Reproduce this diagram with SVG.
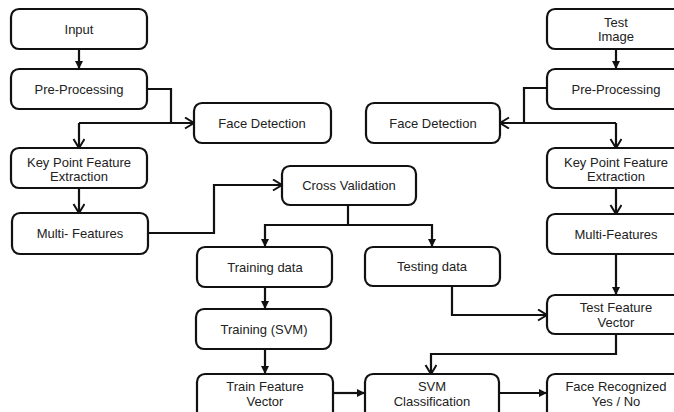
<svg xmlns="http://www.w3.org/2000/svg" width="674" height="412" viewBox="0 0 674 412">
<style>
.box{fill:#fff;stroke:#111;stroke-width:2.2}
text{font-family:"Liberation Sans",Arial,sans-serif;font-size:13px;fill:#222;text-anchor:middle}
.c{fill:none;stroke:#111;stroke-width:2.2}
.f{marker-end:url(#fa)}
.o{marker-end:url(#oa)}
</style>
<defs>
<marker id="fa" markerUnits="userSpaceOnUse" markerWidth="10" markerHeight="10" refX="8" refY="4" orient="auto"><path d="M0,0 L8,4 L0,8 z" fill="#111"/></marker>
<marker id="oa" markerUnits="userSpaceOnUse" markerWidth="12" markerHeight="14" refX="10" refY="6" orient="auto"><path d="M1,0.5 L10,6 L1,11.5" fill="none" stroke="#111" stroke-width="2"/></marker>
</defs>
<rect width="674" height="412" fill="#fff"/>
<g id="connectors">
<path class="c f" d="M79 49 V69"/>
<path class="c" d="M146 89 H171 V123"/>
<path class="c o" d="M79 123 H194"/>
<path class="c o" d="M79 123 V148"/>
<path class="c o" d="M79 188 V213"/>
<path class="c o" d="M148 233 H214 V185 H282"/>
<path class="c" d="M348 205 V225"/>
<path class="c f" d="M348 225 H265 V247"/>
<path class="c f" d="M348 225 H432 V247"/>
<path class="c f" d="M265 287 V309"/>
<path class="c f" d="M265 349 V374"/>
<path class="c o" d="M452 286 V315 H547"/>
<path class="c o" d="M616 334 V354 H431 V374"/>
<path class="c f" d="M333 393 H365"/>
<path class="c f" d="M499 393 H547"/>
<path class="c f" d="M616 49 V69"/>
<path class="c" d="M547 88 H524 V123"/>
<path class="c o" d="M616 123 H500"/>
<path class="c o" d="M616 123 V148"/>
<path class="c o" d="M616 188 V214"/>
<path class="c f" d="M616 254 V295"/>
</g>
<g id="input"><rect class="box" x="11" y="9" width="136" height="40" rx="8"/><text x="79" y="34">Input</text></g>
<g id="preprocessing-left"><rect class="box" x="11" y="69" width="136" height="40" rx="8"/><text x="79" y="94">Pre-Processing</text></g>
<g id="face-detection-left"><rect class="box" x="194" y="103" width="137" height="40" rx="8"/><text x="262" y="128">Face Detection</text></g>
<g id="keypoint-left"><rect class="box" x="11" y="148" width="136" height="40" rx="8"/><text x="79" y="167">Key Point Feature</text><text x="79" y="181">Extraction</text></g>
<g id="multi-left"><rect class="box" x="12" y="213" width="136" height="41" rx="8"/><text x="80" y="238">Multi- Features</text></g>
<g id="cross-validation"><rect class="box" x="282" y="166" width="134" height="39" rx="8"/><text x="349" y="190">Cross Validation</text></g>
<g id="training-data"><rect class="box" x="197" y="247" width="135" height="40" rx="8"/><text x="265" y="272">Training data</text></g>
<g id="training-svm"><rect class="box" x="196" y="309" width="135" height="40" rx="8"/><text x="264" y="334">Training (SVM)</text></g>
<g id="train-feature-vector"><rect class="box" x="197" y="374" width="136" height="46" rx="8"/><text x="265" y="391">Train Feature</text><text x="265" y="406">Vector</text></g>
<g id="testing-data"><rect class="box" x="365" y="247" width="135" height="39" rx="8"/><text x="432" y="271">Testing data</text></g>
<g id="svm-classification"><rect class="box" x="365" y="374" width="134" height="46" rx="8"/><text x="432" y="391">SVM</text><text x="432" y="406">Classification</text></g>
<g id="face-detection-right"><rect class="box" x="366" y="103" width="134" height="40" rx="8"/><text x="433" y="128">Face Detection</text></g>
<g id="test-image"><rect class="box" x="547" y="9" width="138" height="40" rx="8"/><text x="616" y="27">Test</text><text x="616" y="41">Image</text></g>
<g id="preprocessing-right"><rect class="box" x="547" y="69" width="138" height="40" rx="8"/><text x="616" y="94">Pre-Processing</text></g>
<g id="keypoint-right"><rect class="box" x="547" y="148" width="138" height="40" rx="8"/><text x="616" y="167">Key Point Feature</text><text x="616" y="181">Extraction</text></g>
<g id="multi-right"><rect class="box" x="547" y="214" width="138" height="40" rx="8"/><text x="616" y="239">Multi-Features</text></g>
<g id="test-feature-vector"><rect class="box" x="547" y="295" width="138" height="39" rx="8"/><text x="616" y="312">Test Feature</text><text x="616" y="327">Vector</text></g>
<g id="face-recognized"><rect class="box" x="547" y="374" width="138" height="46" rx="8"/><text x="616" y="391">Face Recognized</text><text x="616" y="406">Yes / No</text></g>
</svg>
